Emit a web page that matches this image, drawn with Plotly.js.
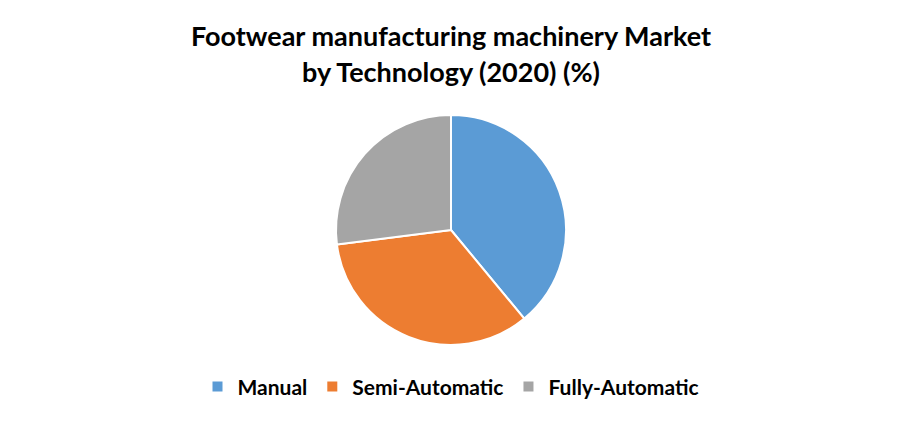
<!DOCTYPE html>
<html>
<head>
<meta charset="utf-8">
<script src="https://cdn.plot.ly/plotly-3.0.1.min.js"></script>
<style>html,body{margin:0;padding:0;background:#fff;}#chart{width:902px;height:422px;}</style>
</head>
<body>
<div id="chart"></div>
<script>
const categories = ["Manual", "Semi-Automatic", "Fully-Automatic"];
const shares = [39, 34, 27];
const colors = ["#5B9BD5", "#ED7D31", "#A5A5A5"];

const trace = {
  type: "pie",
  labels: categories,
  values: shares,
  sort: false,
  direction: "clockwise",
  rotation: 0,
  textinfo: "none",
  hoverinfo: "label+percent",
  marker: { colors: colors, line: { color: "#ffffff", width: 2 } },
  domain: { x: [0.3725, 0.6275], y: [0.1825, 0.7275] },
  automargin: false
};

const layout = {
  width: 902, height: 422,
  margin: { l: 0, r: 0, t: 0, b: 0 },
  paper_bgcolor: "#ffffff",
  font: { family: "Lato, 'Open Sans', sans-serif", color: "#000000" },
  title: {
    text: "<b>Footwear manufacturing machinery Market<br>by Technology (2020) (%)</b>",
    font: { size: 27, family: "Lato, 'Open Sans', sans-serif", color: "#000" },
    x: 0.5, xanchor: "center", y: 0.89, yanchor: "middle"
  },
  showlegend: true,
  legend: {
    orientation: "h", x: 0.5, xanchor: "center", y: 0.083, yanchor: "middle",
    font: { size: 21, family: "Lato, 'Open Sans', sans-serif", weight: "bold", color: "#000" },
    itemwidth: 30, traceorder: "normal"
  }
};

Plotly.newPlot("chart", [trace], layout, { displayModeBar: false, staticPlot: true });
</script>
</body>
</html>
